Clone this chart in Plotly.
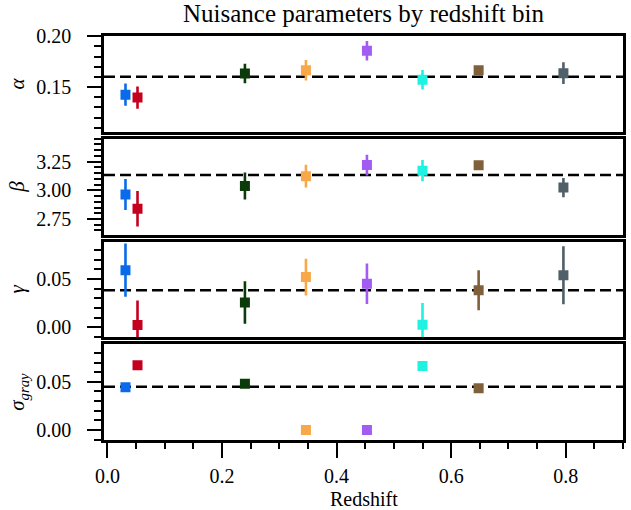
import plotly.graph_objects as go
from plotly.subplots import make_subplots

# ---- data ----
redshift = [0.0315, 0.0525, 0.240, 0.3465, 0.453, 0.550, 0.648, 0.796]
bin_colors = ["#0a6bea", "#c5001f", "#0b3b0b", "#f8a848",
              "#a35cf2", "#1ff2e0", "#80603a", "#505f68"]

alpha = [0.1425, 0.1396, 0.1633, 0.1665, 0.1856, 0.1572, 0.1665, 0.1636]
alpha_err = [0.011, 0.011, 0.0097, 0.010, 0.0096, 0.0096, 0.002, 0.0107]
alpha_ref = 0.160

beta = [2.964, 2.839, 3.038, 3.124, 3.220, 3.172, 3.219, 3.024]
beta_err = [0.136, 0.155, 0.117, 0.099, 0.090, 0.092, 0.02, 0.084]
beta_ref = 3.133

gamma = [0.0593, 0.0024, 0.0259, 0.0521, 0.0452, 0.0028, 0.0386, 0.0541]
gamma_err = [0.0276, 0.0255, 0.022, 0.019, 0.021, 0.0224, 0.0207, 0.030]
gamma_ref = 0.0386

sigma_gray = [0.0442, 0.0673, 0.048, 0.0, 0.0, 0.0663, 0.0432, None]
sigma_ref = 0.0449

x_range = [-0.006, 0.9]
x_ticks = [0.0, 0.2, 0.4, 0.6, 0.8]
title_text = "Nuisance parameters by redshift bin"
x_title = "Redshift"
y_titles = ["<i>α</i>", "<i>β</i>", "<i>γ</i>", "<i>σ<sub>gray</sub></i>"]

# ---- figure ----
FONT = "Liberation Serif"
W, H = 631, 510
ML, MR, MT, MB = 104, 8, 36, 70
plot_h = H - MT - MB
gap = 7.0

fig = make_subplots(rows=4, cols=1, shared_xaxes=True,
                    vertical_spacing=gap / plot_h)

panels = [
    (alpha, alpha_err, alpha_ref),
    (beta, beta_err, beta_ref),
    (gamma, gamma_err, gamma_ref),
    (sigma_gray, None, sigma_ref),
]

for r, (vals, errs, ref) in enumerate(panels, start=1):
    # reference (mean) level: dashed black line across the full x range
    fig.add_trace(go.Scatter(
        x=x_range, y=[ref, ref], mode="lines",
        line=dict(color="black", width=2.5, dash="11px,5px"),
        showlegend=False, hoverinfo="skip"), row=r, col=1)
    for i, v in enumerate(vals):
        if v is None:
            continue
        err = dict(visible=False)
        if errs is not None:
            err = dict(type="data", array=[errs[i]], visible=True,
                       color=bin_colors[i], thickness=2.6, width=0)
        fig.add_trace(go.Scatter(
            x=[redshift[i]], y=[v], mode="markers",
            marker=dict(symbol="square", size=10, color=bin_colors[i]),
            error_y=err, showlegend=False, hoverinfo="skip"),
            row=r, col=1)

y_ranges = [[0.106, 0.2002], [2.615, 3.45], [-0.0102, 0.089], [-0.0105, 0.089]]
y_dticks = [0.05, 0.25, 0.05, 0.05]
y_minor = [0.01, 0.05, 0.01, 0.01]

axis_common = dict(showline=True, mirror=True, linecolor="black", linewidth=2.5,
                   showgrid=False, zeroline=False, automargin=False)

for r in range(1, 5):
    yname = "yaxis" if r == 1 else f"yaxis{r}"
    xname = "xaxis" if r == 1 else f"xaxis{r}"
    fig.layout[yname].update(
        range=y_ranges[r - 1], tick0=0, dtick=y_dticks[r - 1],
        tickformat=".2f", ticks="outside", ticklen=14, tickwidth=2,
        tickcolor="black", ticklabelstandoff=12,
        tickfont=dict(family=FONT, size=20, color="black"),
        minor=dict(dtick=y_minor[r - 1], ticks="outside", ticklen=7,
                   tickwidth=2, tickcolor="black"),
        title=dict(text=y_titles[r - 1], standoff=6,
                   font=dict(family=FONT, size=21, color="black")),
        **axis_common)
    if r < 4:
        fig.layout[xname].update(range=x_range, ticks="",
                                 showticklabels=False, **axis_common)
    else:
        fig.layout[xname].update(
            range=x_range, tickvals=x_ticks,
            ticktext=[f"{t:.1f}" for t in x_ticks],
            ticks="outside", ticklen=15, tickwidth=2.2, tickcolor="black",
            ticklabelstandoff=1,
            tickfont=dict(family=FONT, size=20, color="black"),
            minor=dict(tick0=0, dtick=0.05, ticks="outside", ticklen=6,
                       tickwidth=2, tickcolor="black"),
            **axis_common)

# x-axis title, centred under the plot area
fig.add_annotation(
    text=x_title, xref="paper", yref="paper", x=0.5, y=0,
    xanchor="center", yanchor="middle", yshift=-59,
    showarrow=False, font=dict(family=FONT, size=20, color="black"))

fig.update_layout(
    width=W, height=H,
    margin=dict(l=ML, r=MR, t=MT, b=MB),
    paper_bgcolor="white", plot_bgcolor="white",
    title=dict(text=title_text, x=(ML + (W - MR - ML) / 2) / W, xanchor="center",
               y=1 - 13 / H, yanchor="middle",
               font=dict(family=FONT, size=25, color="black")),
    showlegend=False,
)

fig.write_html("out.html")
